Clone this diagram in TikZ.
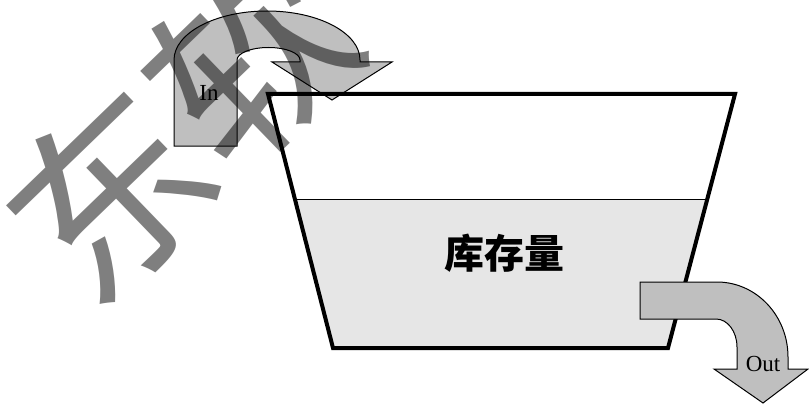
\documentclass[tikz,border=0pt]{standalone}
\usepackage{fontspec}
\setmainfont{Liberation Serif}
\newfontfamily\cjk{Noto Sans CJK SC}
\begin{document}
\begin{tikzpicture}[x=1pt,y=-1pt,
  arrowfill/.style={fill=arrowgray,draw=black,line width=1pt,line join=miter},
  lbl/.style={font=\fontsize{23}{23}\selectfont,inner sep=0pt},
  wm/.style={font=\cjk\fontsize{195}{195}\selectfont,text=black,opacity=0.5,inner sep=0pt,rotate=44}]
\definecolor{arrowgray}{HTML}{BFBFBF}
\definecolor{liquid}{HTML}{E6E6E6}
\useasboundingbox (0,0) rectangle (809,404);
\fill[white] (0,0) rectangle (809,404);
% In arrow
\draw[arrowfill] (174,146) -- (174,60)
  arc[start angle=180,end angle=360,x radius=93,y radius=49]
  -- (360,62) -- (392,62) -- (332,100) -- (272,62) -- (300,62) -- (300,60)
  arc[start angle=360,end angle=180,x radius=31.5,y radius=12.5]
  -- (237,146) -- cycle;
\node[lbl] (in) at (209,93) {In};
% bucket
\coordinate (tl) at (268,94);
\coordinate (tr) at (735,94);
\coordinate (br) at (668,348);
\coordinate (bl) at (333,348);
\coordinate (ll) at (295,199);
\coordinate (lr) at (707,199);
\fill[liquid] (ll) -- (lr) -- (br) -- (bl) -- cycle;
\draw[line width=1pt] (ll) -- (lr);
\draw[line width=4pt,line join=miter] (tl) -- (tr) -- (br) -- (bl) -- cycle;
\node[font=\cjk\bfseries\fontsize{40}{40}\selectfont,inner sep=0pt] (stock) at (504,253) {库存量};
% Out arrow
\draw[arrowfill] (640,282) -- (717,282)
  arc[start angle=-90,end angle=0,x radius=71,y radius=75]
  -- (788,369) -- (808,369) -- (763,403) -- (714,369) -- (737,369) -- (737,347)
  arc[start angle=0,end angle=-90,x radius=21,y radius=28]
  -- (640,319) -- cycle;
\node[lbl] (out) at (763,364) {Out};
% watermark
\node[wm] (wmark) at (180,126) {东软};
\end{tikzpicture}
\end{document}
